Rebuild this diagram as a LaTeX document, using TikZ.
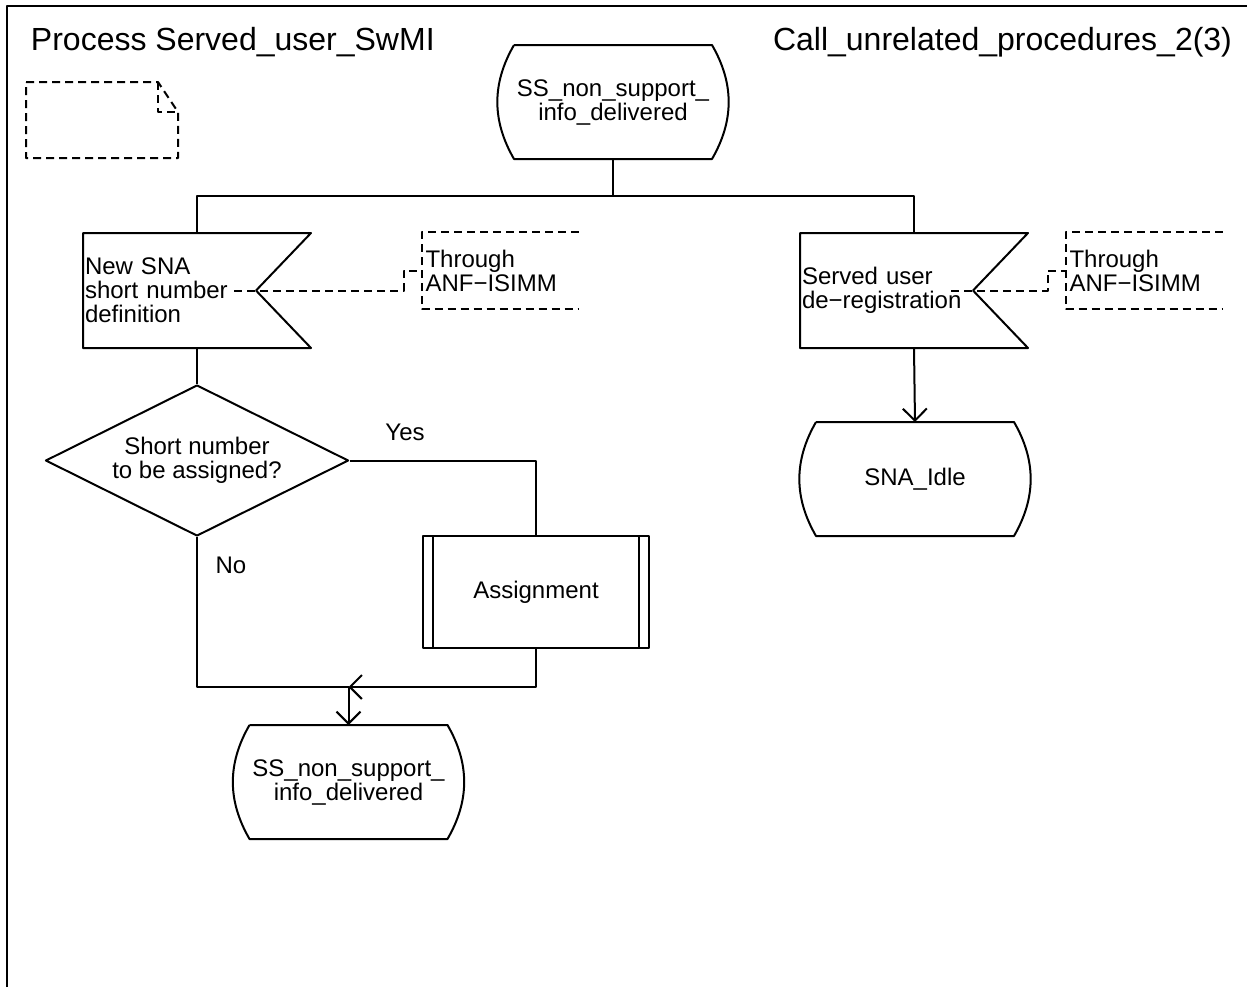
\documentclass[tikz,border=0pt]{standalone}
\usepackage{fontspec}
\setmainfont{Liberation Sans}
\usetikzlibrary{shapes.geometric,arrows.meta}
\begin{document}
\begin{tikzpicture}[x=0.5pt,y=0.5pt,line width=1pt,line join=round,
  >={Straight Barb[length=6pt,width=12pt]},
  every node/.style={font=\fontsize{12}{12}\selectfont},
  heading/.style={inner sep=0pt,font=\fontsize{16}{19}\selectfont},
  sdlstate/.style={minimum width=98pt,minimum height=56pt,inner sep=0pt,align=center},
  sdlinput/.style={minimum height=56.5pt,text width=112pt,inner xsep=0.5pt,inner ysep=0pt,align=left},
  decision/.style={draw,diamond,aspect=2,minimum width=151.5pt,minimum height=75.5pt,inner sep=0pt,align=center},
  procbox/.style={draw,minimum width=113pt,minimum height=56pt,inner sep=0pt},
  comment/.style={minimum height=37.5pt,text width=74.5pt,inner xsep=1.5pt,inner ysep=0pt,align=left},
  cmtline/.style={dash pattern=on 4pt off 2.5pt}]
\useasboundingbox (0,0) rectangle (1247,-987);
\draw (7,-987)--(7,-6)--(1247,-6);
\node[heading,anchor=base west] (title) at (30,-50) {Process Served\_user\_SwMI};
\node[heading,anchor=base east] (page) at (1233,-50) {Call\_unrelated\_procedures\_2(3)};
\draw[cmtline] (26,-82)--(158,-82)--(178,-112)--(178,-158)--(26,-158)--cycle;
\draw[cmtline] (158,-82)--(158,-112)--(178,-112);

\node[sdlstate] (st0) at (613,-102) {SS\_non\_support\_\\info\_delivered};
\node[sdlinput] (in1) at (197,-290.5) {New SNA\\short number\\definition};
\node[sdlinput] (in2) at (914,-290.5) {Served user\\de−registration};
\node[comment] (c1) at (500,-270.5) {Through\\ANF−ISIMM};
\node[comment] (c2) at (1144,-270.5) {Through\\ANF−ISIMM};
\node[decision] (d1) at (197,-460.5) {Short number\\to be assigned?};
\node[procbox] (p1) at (536,-592) {Assignment};
\node[sdlstate] (st1) at (348.5,-782) {SS\_non\_support\_\\info\_delivered};
\node[sdlstate] (st2) at (915,-479) {SNA\_Idle};
\node (yes) at (405,-432) {Yes};
\node (no) at (231,-565) {No};
\coordinate (j0) at (613,-196);
\coordinate (m1) at (348.5,-687);

\foreach \n in {st0,st1,st2}
\draw (\n.north west)--(\n.north east) to[bend left=30] (\n.south east)
  --(\n.south west) to[bend left=30] (\n.north west);
\foreach \n in {in1,in2}
\draw (\n.north west)--(\n.north east)--([xshift=-27.5pt]\n.east)--(\n.south east)--(\n.south west)--cycle;
\foreach \n/\c in {in1/c1,in2/c2}{
\draw[cmtline] (\c.north east)--(\c.north west)--(\c.south west)--(\c.south east);
\draw[cmtline] ([xshift=-38.5pt]\n.east) -| ([xshift=-9pt]\c.west)--(\c.west);}
\draw ([xshift=5.5pt]p1.north west)--([xshift=5.5pt]p1.south west);
\draw ([xshift=-5.5pt]p1.north east)--([xshift=-5.5pt]p1.south east);

\draw (st0.south)--(j0);
\draw (in1.north) |- (j0) -| (in2.north);
\draw (in1.south)--(d1.north);
\draw (d1.east) -| (p1.north);
\draw (d1.south) |- (m1);
\draw[->] (p1.south) |- (m1);
\draw[->] (m1)--(st1.north);
\draw[->] (in2.south)--(st2.north);
\end{tikzpicture}
\end{document}
